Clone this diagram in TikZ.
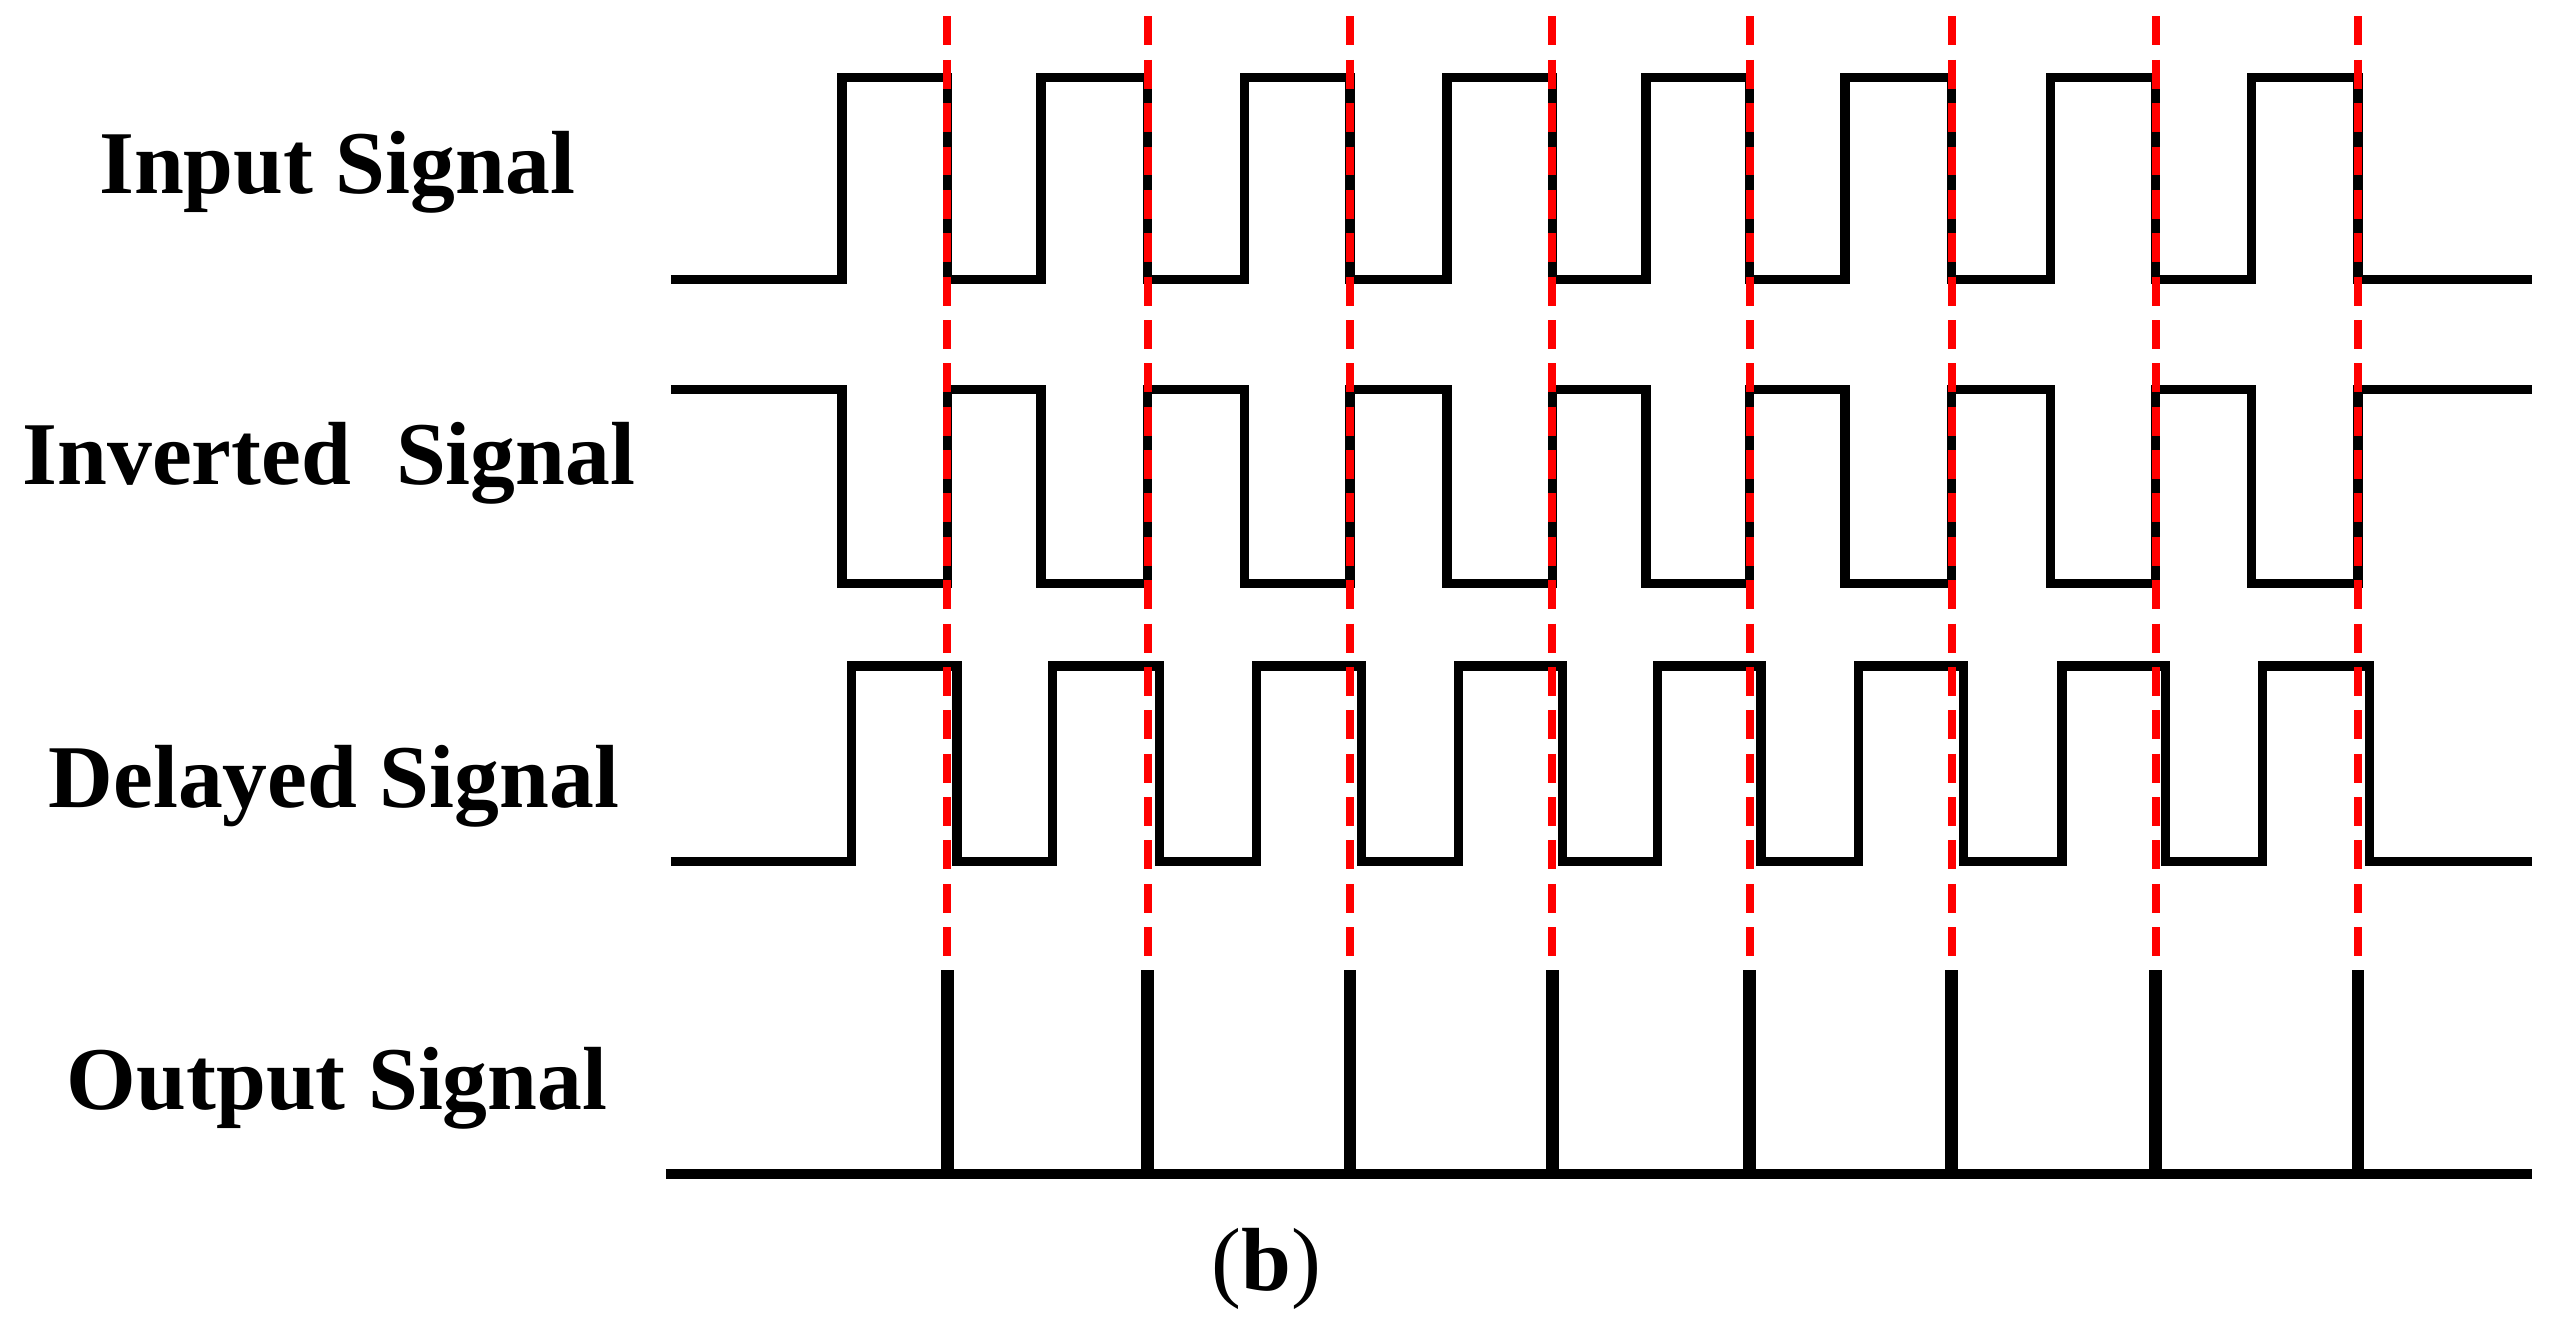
\documentclass[tikz,border=0pt]{standalone}
\usepackage{fontspec}
\setmainfont{Liberation Serif}
\begin{document}
\begin{tikzpicture}[x=0.01cm,y=-0.01cm,
  wave/.style={line width=1.6pt,line join=miter},
  pulse/.style={line width=2.2pt},
  guide/.style={red,line width=1.4pt,dash pattern=on 5pt off 2.5pt},
  lbl/.style={font=\bfseries\fontsize{15.5}{18}\selectfont,inner sep=0pt}]
\useasboundingbox (0,0) rectangle (1552,801);
\fill[white] (0,0) rectangle (1552,801);
% input
\draw[wave] (408,170) -- (512,170) |- (576,47) |- (633,170) |- (698,47) |- (757,170) |- (821,47) |- (880,170) |- (944,47) |- (1001,170) |- (1064,47) |- (1122,170) |- (1187,47) |- (1247,170) |- (1311,47) |- (1369,170) |- (1434,47) |- (1540,170);
% inverted
\draw[wave] (408,237) -- (512,237) |- (576,355) |- (633,237) |- (698,355) |- (757,237) |- (821,355) |- (880,237) |- (944,355) |- (1001,237) |- (1064,355) |- (1122,237) |- (1187,355) |- (1247,237) |- (1311,355) |- (1369,237) |- (1434,355) |- (1540,237);
% delayed
\draw[wave] (408,524) -- (518,524) |- (582,405) |- (640,524) |- (705,405) |- (764,524) |- (828,405) |- (887,524) |- (950,405) |- (1008,524) |- (1071,405) |- (1130,524) |- (1194,405) |- (1254,524) |- (1317,405) |- (1376,524) |- (1441,405) |- (1540,524);
% output
\draw[wave] (405,714) -- (1540,714);
\foreach \x in {576,698,821,944,1064,1187,1311,1434}{
  \draw[pulse] (\x,590) -- (\x,714);
  \draw[guide] (\x,10) -- (\x,590);
}
\node[lbl] (in) at (205,105) {Input Signal};
\node[lbl] (inv) at (200,282) {Inverted\ \ Signal};
\node[lbl] (del) at (203,478) {Delayed Signal};
\node[lbl] (out) at (205,662) {Output Signal};
\node[font=\fontsize{15.5}{18}\selectfont,inner sep=0pt] (b) at (770,772) {(\textbf{b})};
\end{tikzpicture}
\end{document}
